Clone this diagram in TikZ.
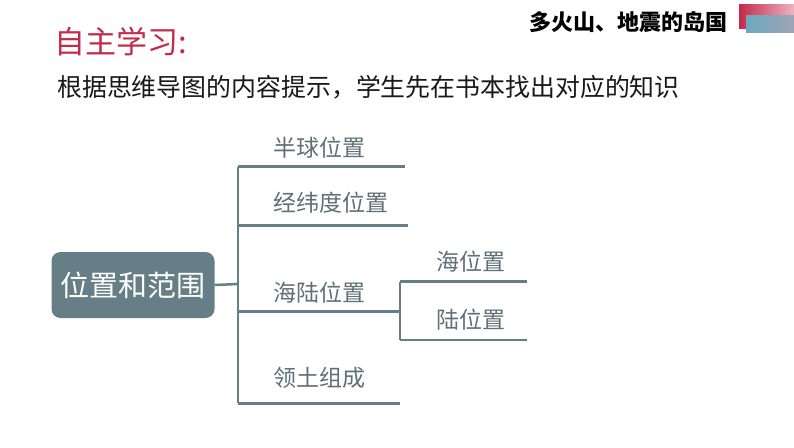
\documentclass[tikz,border=0pt]{standalone}
\usepackage{fontspec}
\newfontfamily\cjk{Noto Sans CJK SC}
\definecolor{rootc}{HTML}{667E86}
\definecolor{linec}{HTML}{667E86}
\definecolor{labc}{HTML}{5F7077}
\definecolor{titc}{HTML}{C42A4A}
\definecolor{tealA}{HTML}{6CA9BE}
\definecolor{tealB}{HTML}{A0A4B4}
\tikzset{
  branch/.style={draw=linec, line width=2.5pt},
  lab/.style={anchor=west, inner sep=0pt, text=labc, font=\cjk\fontsize{23}{23}\selectfont},
}
\begin{document}
\begin{tikzpicture}[x=1pt,y=-1pt]
\useasboundingbox[fill=white] (0,0) rectangle (794,447);
% decoration top right
\shade[left color=titc, right color=titc!35!white] (739,4) rectangle (794,28);
\shade[left color=tealA, right color=tealB] (746,15) rectangle (794,32);
% header
\node[inner sep=0pt, anchor=east, font=\cjk\bfseries\fontsize{22}{22}\selectfont] (hdr) at (728,22) {多火山、地震的岛国};
\node[inner sep=0pt, anchor=west, text=titc, font=\cjk\fontsize{31}{31}\selectfont] (tit) at (54,42) {自主学习:};
\node[inner sep=0pt, anchor=west, text=black!90, font=\cjk\fontsize{24.9}{25}\selectfont] (sub) at (57,87) {根据思维导图的内容提示，学生先在书本找出对应的知识};
% root
\node[fill=rootc, rounded corners=9pt, minimum width=163pt, minimum height=66pt, inner sep=0pt,
  text=white, font=\cjk\fontsize{29}{29}\selectfont] (root) at (133,285) {位置和范围};
% trunk
\coordinate (j) at (238,284);
\coordinate (t1) at (238,166.7);
\coordinate (t2) at (238,225.3);
\coordinate (t3) at (238,311.7);
\coordinate (t4) at (238,403.3);
\coordinate (e1) at (405,166.7);
\coordinate (e2) at (408,225.3);
\coordinate (e3) at (400,311.7);
\coordinate (e4) at (400,403.3);
\coordinate (s1) at (400,281.7);
\coordinate (s2) at (400,340);
\coordinate (f1) at (527,281.7);
\coordinate (f2) at (527,340);
\draw[branch] (root.east) -- (j);
\draw[branch] (t1) -- (t4);
\draw[branch] (t1) -- (e1);
\draw[branch] (t2) -- (e2);
\draw[branch] (t3) -- (e3);
\draw[branch] (t4) -- (e4);
\draw[branch] (s1) -- (s2);
\draw[branch] (s1) -- (f1);
\draw[branch] (s2) -- (f2);
% labels
\node[lab] (l1) at (273,148) {半球位置};
\node[lab] (l2) at (273,203) {经纬度位置};
\node[lab] (l3) at (273,293) {海陆位置};
\node[lab] (l4) at (273,378) {领土组成};
\node[lab] (l5) at (436,262) {海位置};
\node[lab] (l6) at (436,320) {陆位置};
\end{tikzpicture}
\end{document}
